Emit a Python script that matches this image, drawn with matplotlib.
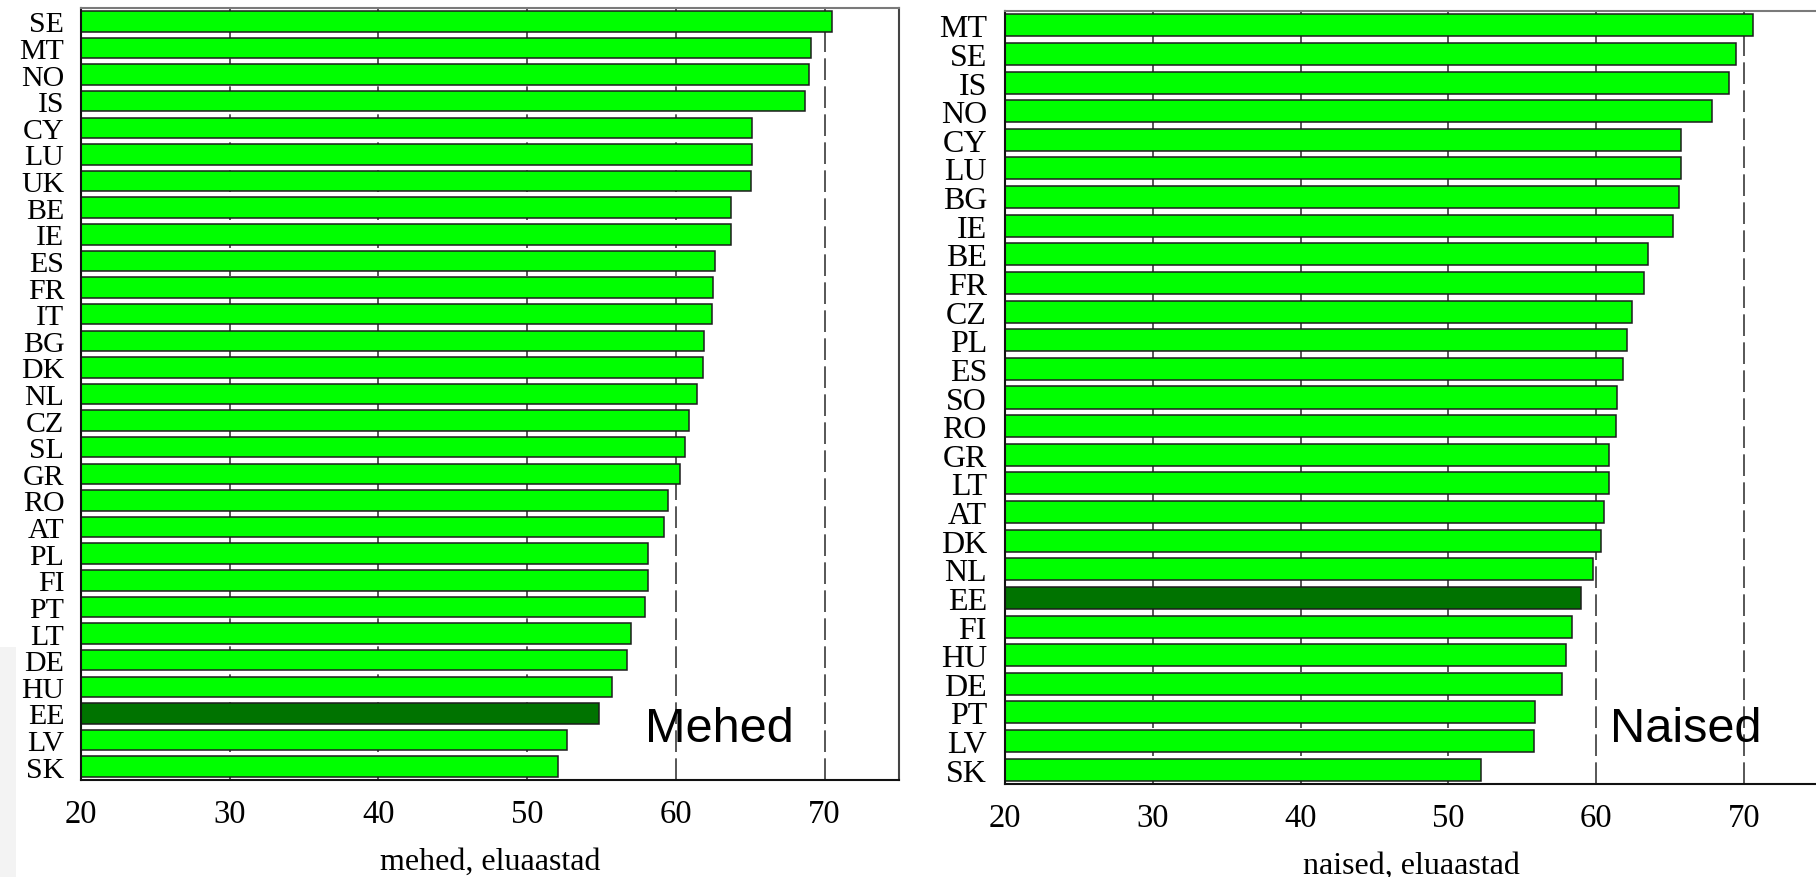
import matplotlib
matplotlib.use("Agg")
import matplotlib.pyplot as plt
from matplotlib.patches import Rectangle

# ---- data ----
men_countries = ["SE", "MT", "NO", "IS", "CY", "LU", "UK", "BE", "IE", "ES", "FR", "IT",
                 "BG", "DK", "NL", "CZ", "SL", "GR", "RO", "AT", "PL", "FI", "PT", "LT",
                 "DE", "HU", "EE", "LV", "SK"]
men_values = [70.5, 69.1, 68.95, 68.7, 65.1, 65.1, 65.05, 63.7, 63.7, 62.65, 62.5, 62.4,
              61.9, 61.8, 61.45, 60.9, 60.6, 60.25, 59.5, 59.2, 58.1, 58.1, 57.95, 57.0,
              56.7, 55.7, 54.8, 52.65, 52.1]

women_countries = ["MT", "SE", "IS", "NO", "CY", "LU", "BG", "IE", "BE", "FR", "CZ", "PL",
                   "ES", "SO", "RO", "GR", "LT", "AT", "DK", "NL", "EE", "FI", "HU", "DE",
                   "PT", "LV", "SK"]
women_values = [70.6, 69.45, 69.0, 67.8, 65.7, 65.7, 65.6, 65.2, 63.5, 63.2, 62.4, 62.05,
                61.8, 61.4, 61.35, 60.85, 60.85, 60.55, 60.35, 59.8, 58.95, 58.35, 57.95, 57.7,
                55.85, 55.8, 52.2]

x_ticks = [20, 30, 40, 50, 60, 70]
highlight = "EE"
men_xlabel = "mehed, eluaastad"
women_xlabel = "naised, eluaastad"
men_title = "Mehed"
women_title = "Naised"

SERIF = ["Liberation Serif", "DejaVu Serif"]
SANS = ["Liberation Sans", "DejaVu Sans"]

W, H = 1816, 878
fig = plt.figure(figsize=(W / 100, H / 100), dpi=100)
fig.patch.set_facecolor("white")

# faint slide shadow on the left edge
fig.add_artist(Rectangle((0, 0), 16 / W, 230 / H, transform=fig.transFigure,
                         facecolor="#f3f3f3", edgecolor="none", zorder=-5))


def panel(rect, countries, values, xlabel, title, title_x, title_y, label_y, ypad, yfs):
    ax = fig.add_axes(rect)
    n = len(countries)
    pos = list(range(n))
    colors = ["#007300" if c == highlight else "#00ff00" for c in countries]
    ax.barh(pos, [v - 20 for v in values], left=20, height=0.77, color=colors,
            edgecolor="#1c1c1c", linewidth=1.1, zorder=2)
    ax.set_xlim(20, 75)
    ax.set_ylim(n - 0.5, -0.5)
    ax.set_yticks(pos)
    ax.set_yticklabels(countries, fontfamily=SERIF, fontsize=yfs)
    ax.set_xticks(x_ticks)
    ax.set_xticklabels([str(t) for t in x_ticks], fontfamily=SERIF, fontsize=23.5)
    ax.tick_params(axis="y", direction="in", length=8, width=1.2, pad=ypad, color="black")
    ax.tick_params(axis="x", length=0, pad=13)
    ax.set_axisbelow(True)
    ax.grid(axis="x", color="#3a3a3a", linewidth=1.2, linestyle=(0, (13, 3.8)), zorder=0)
    for side in ("left", "bottom"):
        ax.spines[side].set_color("#111111")
        ax.spines[side].set_linewidth(1.5)
    ax.spines["top"].set_color("#7a7a7a")
    ax.spines["top"].set_linewidth(1.5)
    ax.spines["right"].set_color("#444444")
    ax.spines["right"].set_linewidth(1.5)
    ax.set_xlabel(xlabel, fontfamily=SERIF, fontsize=23)
    ax.xaxis.set_label_coords(0.5, label_y)
    ax.text(title_x, title_y, title, transform=ax.get_xaxis_transform(),
            fontfamily=SANS, fontsize=35, ha="left", va="baseline", zorder=5)
    return ax


panel([81 / W, 1 - 781 / H, 818 / W, 772 / H], men_countries, men_values,
      men_xlabel, men_title, 57.9, 0.05, -0.087, 12, 21.5)
panel([1005 / W, 1 - 785 / H, 813 / W, 773 / H], women_countries, women_values,
      women_xlabel, women_title, 60.9, 0.055, -0.087, 13, 23)

fig.savefig("out.png", dpi=100)
